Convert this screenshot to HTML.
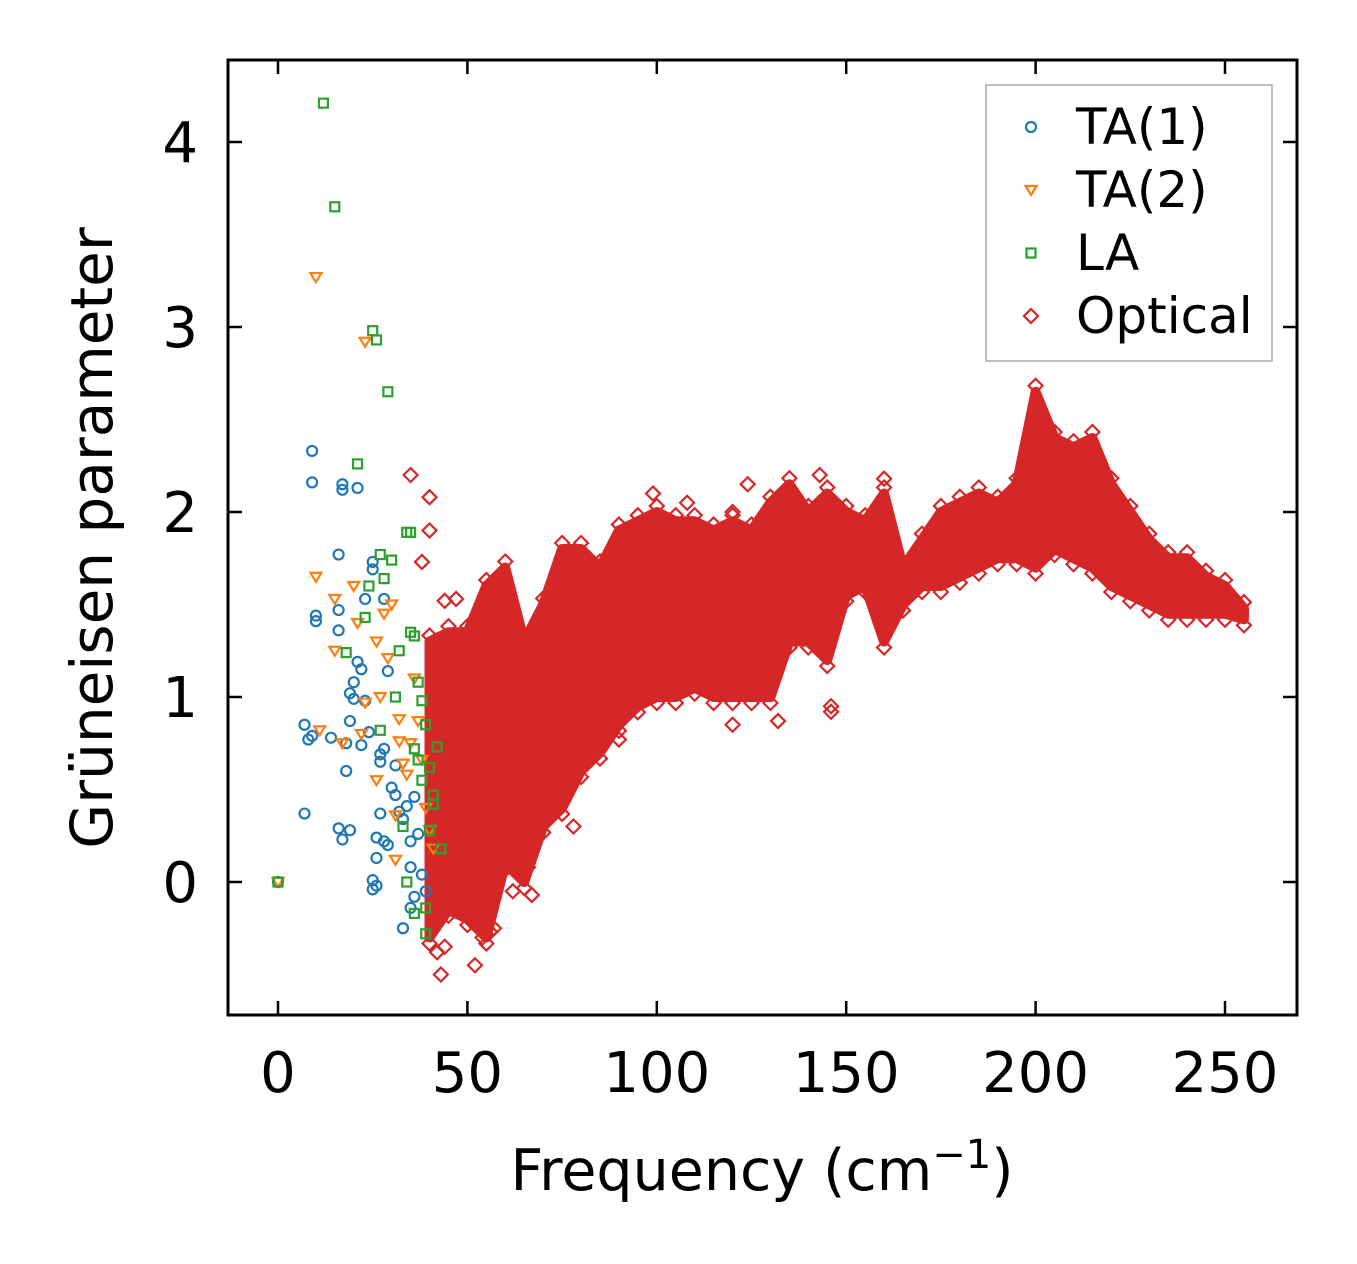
<!DOCTYPE html>
<html><head><meta charset="utf-8"><style>
html,body{margin:0;padding:0;background:#fff;}
svg{display:block;font-family:"DejaVu Sans","Liberation Sans",sans-serif;}
</style></head><body>
<svg id="chart" width="1357" height="1264" viewBox="0 0 1357 1264" xmlns="http://www.w3.org/2000/svg">
<g id="plot"></g>
<g id="axes"></g>
</svg>
<script>
// ---- data ----
const xTicks = [0, 50, 100, 150, 200, 250];
const yTicks = [0, 1, 2, 3, 4];
const ta1X = [0,7,7,8,9,9,9,10,10,14,16,16,16,16,17,17,17,18,18,19,19,19,20,20,21,21,22,22,23,23,24,25,25,25,25,26,26,26,27,27,27,28,28,28,29,29,30,31,31,32,33,33,34,35,35,35,36,36,37,38,39];
const ta1Y = [0,0.85,0.37,0.77,0.79,2.33,2.16,1.41,1.44,0.78,1.47,1.36,1.77,0.29,0.23,2.12,2.15,0.6,0.75,0.87,1.02,0.28,1.08,0.99,2.13,1.19,1.15,0.74,0.98,1.53,0.81,1.73,1.69,0.01,-0.04,0.24,0.13,-0.02,0.37,0.69,0.65,1.53,0.22,0.72,0.2,1.14,0.51,0.47,0.63,0.38,-0.25,0.34,0.41,0.22,-0.14,0.08,0.46,-0.08,0.26,0.04,-0.05];
const ta2X = [0,10,10,11,15,15,17,20,21,22,23,23,26,26,27,28,29,30,31,31,32,32,33,34,35,36,37,38,39,40,41];
const ta2Y = [0,3.27,1.65,0.82,1.25,1.53,0.75,1.6,1.4,0.8,2.92,0.97,0.55,1.3,1.0,1.45,1.21,1.5,0.36,0.12,0.88,0.76,0.64,0.58,0.75,1.1,0.87,0.66,0.4,0.28,0.18];
const laX = [0,12,15,18,21,23,24,25,26,27,27,28,29,30,31,32,33,34,35,35,36,36,37,37,38,38,39,39,39,40,40,41,41,42,43,36,34];
const laY = [0,4.21,3.65,1.24,2.26,1.43,1.6,2.98,2.93,0.82,1.77,1.64,2.65,1.74,1.0,1.25,0.3,1.89,1.89,1.35,1.33,0.72,0.66,1.08,0.98,0.55,0.85,-0.28,-0.14,0.62,0.28,0.47,0.42,0.73,0.18,-0.17,0.0];
// optical dense band: frequency, lower and upper envelope
const optF  = [40,45,50,55,60,65,70,75,80,85,90,95,100,105,110,115,120,125,130,135,140,145,150,155,160,165,170,175,180,185,190,195,200,205,210,215,220,225,230,235,240,245,250,255];
const optLo = [-0.3,-0.15,-0.2,-0.3,0.1,0.0,0.3,0.4,0.6,0.7,0.85,0.95,1.0,1.0,1.05,1.0,1.0,1.0,1.0,1.3,1.3,1.2,1.55,1.6,1.3,1.5,1.6,1.6,1.65,1.7,1.75,1.75,1.7,1.8,1.75,1.7,1.6,1.55,1.5,1.45,1.45,1.45,1.45,1.42];
const optHi = [1.3,1.35,1.35,1.6,1.7,1.3,1.5,1.8,1.8,1.7,1.9,1.95,2.0,1.95,1.95,1.9,1.95,1.9,2.05,2.15,2.0,2.1,2.0,1.95,2.1,1.7,1.85,2.0,2.05,2.1,2.05,2.15,2.65,2.4,2.35,2.4,2.15,2.0,1.85,1.75,1.75,1.65,1.6,1.48];
// optical outliers
const optOX = [35,38,40,40,44,47,43,44,42,52,54,56,57,62,67,66,78,90,120,132,146,146,143,160,120,108,99,124,130];
const optOY = [2.2,1.73,2.08,1.9,1.52,1.53,-0.5,-0.35,-0.38,-0.45,-0.3,-0.27,-0.25,-0.05,-0.07,0.08,0.3,0.77,0.85,0.87,0.92,0.95,2.2,2.18,2.0,2.05,2.1,2.15,1.95];

// ---- axes mapping ----
const L=228,R=1297,T=60,B=1015;
const sx = v => 278 + v*(1225-278)/250;
const sy = v => 882 - v*185;
const NS='http://www.w3.org/2000/svg';
function mk(tag, attrs, parent){const e=document.createElementNS(NS,tag);for(const k in attrs)e.setAttribute(k,attrs[k]);parent.appendChild(e);return e;}
const plot=document.getElementById('plot'), axes=document.getElementById('axes');

const clip=mk('clipPath',{id:'cp'},plot); mk('rect',{x:L,y:T,width:R-L,height:B-T},clip);
const g=mk('g',{'clip-path':'url(#cp)'},plot);

const RED='#d62728',BLUE='#1f77b4',ORANGE='#ff7f0e',GREEN='#2ca02c';
function diamond(x,y,parent){const d=7;return mk('path',{d:`M${x} ${y-d}L${x+d} ${y}L${x} ${y+d}L${x-d} ${y}Z`,fill:'none',stroke:RED,'stroke-width':2.2},parent);}

// optical band
let pts=[];
for(let i=0;i<optF.length;i++)pts.push(sx(optF[i])+','+sy(optHi[i]));
for(let i=optF.length-1;i>=0;i--)pts.push(sx(optF[i])+','+sy(optLo[i]));
const band=mk('polygon',{points:pts.join(' '),fill:RED,stroke:RED,'stroke-width':10,'stroke-linejoin':'round'},g);


const og=mk('g',{},g);


for(let i=0;i<optF.length;i++){
  const a=diamond(sx(optF[i]),sy(optHi[i])-6,og);
  
  
  const b=diamond(sx(optF[i]),sy(optLo[i])+6,og);
  
  
}
for(let i=0;i<optOX.length;i++){
  const a=diamond(sx(optOX[i]),sy(optOY[i]),og);
  
  
}
// acoustic
function circle(x,y,p){return mk('circle',{cx:x,cy:y,r:5,fill:'none',stroke:BLUE,'stroke-width':2.2},p);}
function tri(x,y,p){return mk('path',{d:`M${x-5.5} ${y-4}L${x+5.5} ${y-4}L${x} ${y+5}Z`,fill:'none',stroke:ORANGE,'stroke-width':2.2},p);}
function sq(x,y,p){return mk('rect',{x:x-4.5,y:y-4.5,width:9,height:9,fill:'none',stroke:GREEN,'stroke-width':2.2},p);}
const sets=[[ta1X,ta1Y,circle,'ta1'],[ta2X,ta2Y,tri,'ta2'],[laX,laY,sq,'la']];
for(const [xs,ys,f,n] of sets){
  const sg=mk('g',{},g);
  
  
  for(let i=0;i<xs.length;i++){
    const m=f(sx(xs[i]),sy(ys[i]),sg);
    
    
  }
}
// frame
const fr=mk('rect',{x:L,y:T,width:R-L,height:B-T,fill:'none',stroke:'#000','stroke-width':3},axes);


for(const v of xTicks){
  const x=sx(v);
  mk('line',{x1:x,x2:x,y1:B,y2:B-14,stroke:'#000','stroke-width':2.5},axes);
  mk('line',{x1:x,x2:x,y1:T,y2:T+14,stroke:'#000','stroke-width':2.5},axes);
  const t=mk('text',{x:x,y:1092,'font-size':56,'text-anchor':'middle'},axes);t.textContent=v;
  
  
}
for(const v of yTicks){
  const y=sy(v);
  mk('line',{x1:L,x2:L+14,y1:y,y2:y,stroke:'#000','stroke-width':2.5},axes);
  mk('line',{x1:R,x2:R-14,y1:y,y2:y,stroke:'#000','stroke-width':2.5},axes);
  const t=mk('text',{x:198,y:y+20,'font-size':56,'text-anchor':'end'},axes);t.textContent=v;
  
  
}
const xt=mk('text',{x:762,y:1190,'font-size':57,'text-anchor':'middle'},axes);
xt.innerHTML='Frequency (cm<tspan dy="-22" font-size="40">−1</tspan><tspan dy="22">)</tspan>';


const yt=mk('text',{x:0,y:0,'font-size':58,'text-anchor':'middle',transform:'translate(112,538) rotate(-90)'},axes);
yt.textContent='Grüneisen parameter';


// legend
const lg=mk('g',{},axes);


mk('rect',{x:986,y:85,width:286,height:276,fill:'#fff',stroke:'#aaa','stroke-width':1.5},lg);
const labels=['TA(1)','TA(2)','LA','Optical'];
const fns=[circle,tri,sq,(x,y,p)=>diamond(x,y,p)];
for(let i=0;i<4;i++){
  const y=127+i*63;
  const e=mk('g',{},lg);
  
  
  fns[i](1031,y,e);
  const t=mk('text',{x:1076,y:y+17,'font-size':50},e);t.textContent=labels[i];
}
</script>
</body></html>
